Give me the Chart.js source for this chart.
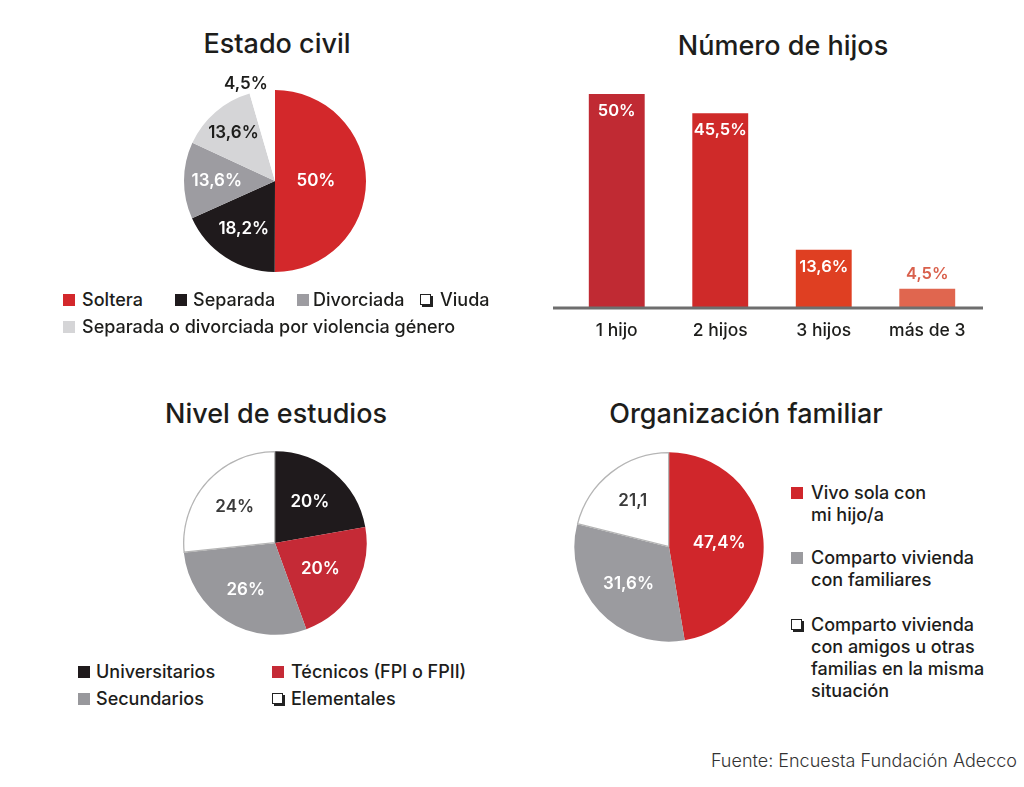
<!DOCTYPE html>
<html>
<head>
<meta charset="utf-8">
<script src="https://cdn.jsdelivr.net/npm/chart.js@4"></script>
<style>
  body { margin: 0; background: #fff; font-family: Inter, sans-serif; color: #1d1d1b; }
  #page { position: relative; width: 1024px; height: 787px; overflow: hidden; }
  .box { position: absolute; }
  .title { position: absolute; font-size: 27px; font-weight: 500; text-align: center; transform: translateX(-50%); white-space: nowrap; }
  .leg { position: absolute; font-size: 18px; font-weight: 500; line-height: 22px; white-space: nowrap; }
  .sq { position: absolute; left: 0; top: 5px; width: 12px; height: 12px; }
  .hollow { width: 9px; height: 9px; top: 5px; border: 1px solid #222; box-shadow: 2px 2px 0 #222; background: #fff; }
  .src { position: absolute; right: 7px; top: 750px; font-size: 18px; font-weight: 300; color: #333; }
</style>
</head>
<body>
<div id="page">
  <div class="title" style="left:277px; top:27px;">Estado civil</div>
  <div class="title" style="left:783px; top:29px;">Número de hijos</div>
  <div class="title" style="left:276px; top:397px;">Nivel de estudios</div>
  <div class="title" style="left:746px; top:397px;">Organización familiar</div>

  <div class="box" style="left:165px; top:71px; width:220px; height:220px;"><canvas id="civil"></canvas></div>
  <div class="box" style="left:545px; top:84px; width:454px; height:269px;"><canvas id="hijos"></canvas></div>
  <div class="box" style="left:183px; top:451px; width:184px; height:184px;"><canvas id="estudios"></canvas></div>
  <div class="box" style="left:574px; top:452px; width:190px; height:190px;"><canvas id="familia"></canvas></div>

  <div class="src">Fuente: Encuesta Fundación Adecco</div>
</div>

<script>
// Estado civil
var civilLabels = ['Soltera', 'Separada', 'Divorciada', 'Separada o divorciada por violencia género', 'Viuda'];
var civilValues = [50, 18.2, 13.6, 13.6, 4.5];

// Número de hijos
var hijosLabels = ['1 hijo', '2 hijos', '3 hijos', 'más de 3'];
var hijosValues = [50, 45.5, 13.6, 4.5];

// Nivel de estudios
var estudiosLabels = ['Universitarios', 'Técnicos (FPI o FPII)', 'Secundarios', 'Elementales'];
var estudiosValues = [20, 20, 26, 24];

// Organización familiar
var familiaLabels = [
    ['Vivo sola con', 'mi hijo/a'],
    ['Comparto vivienda', 'con familiares'],
    ['Comparto vivienda', 'con amigos u otras', 'familias en la misma', 'situación']
];
var familiaValues = [47.4, 31.6, 21.1];
var familiaText = ['47,4%', '31,6%', '21,1'];

function pct(v) {
    return String(v).replace('.', ',') + '%';
}

// draws the value text on each slice
var sliceLabels = {
    id: 'sliceLabels',
    afterDatasetsDraw: function(chart, args, opts) {
        var ctx = chart.ctx;
        var meta = chart.getDatasetMeta(0);
        meta.data.forEach(function(arc, i) {
            var mid = (arc.startAngle + arc.endAngle) / 2;
            var r = arc.outerRadius * opts.radius[i];
            var off = opts.offset ? opts.offset[i] : [0, 0];
            ctx.save();
            ctx.font = '600 17px Inter';
            ctx.fillStyle = opts.colors[i];
            ctx.textAlign = 'center';
            ctx.textBaseline = 'middle';
            ctx.fillText(opts.text[i], arc.x + Math.cos(mid) * r + off[0], arc.y + Math.sin(mid) * r + off[1]);
            ctx.restore();
        });
    }
};

// value text on bars and the grey base line
var barExtras = {
    id: 'barExtras',
    afterDatasetsDraw: function(chart) {
        var ctx = chart.ctx;
        var area = chart.chartArea;
        var y0 = chart.scales.y.getPixelForValue(0);
        ctx.save();
        ctx.strokeStyle = '#6e6e6e';
        ctx.lineWidth = 3;
        ctx.beginPath();
        ctx.moveTo(area.left - 12, y0);
        ctx.lineTo(area.right + 4, y0);
        ctx.stroke();
        var meta = chart.getDatasetMeta(0);
        ctx.font = '600 16.5px Inter';
        ctx.textAlign = 'center';
        ctx.textBaseline = 'middle';
        meta.data.forEach(function(bar, i) {
            var inside = (bar.base - bar.y) > 30;
            ctx.fillStyle = inside ? '#ffffff' : '#d9604c';
            ctx.fillText(pct(hijosValues[i]), bar.x, inside ? bar.y + 17 : bar.y - 15);
        });
        ctx.restore();
    }
};

function addLegend(items) {
    var page = document.getElementById('page');
    items.forEach(function(it) {
        var d = document.createElement('div');
        d.className = 'leg';
        d.style.left = it.x + 'px';
        d.style.top = (it.y - 11) + 'px';
        d.style.paddingLeft = it.indent + 'px';
        var sq = document.createElement('span');
        sq.className = it.hollow ? 'sq hollow' : 'sq';
        if (!it.hollow) sq.style.background = it.color;
        d.appendChild(sq);
        var t = document.createElement('span');
        t.innerHTML = [].concat(it.text).join('<br>');
        d.appendChild(t);
        page.appendChild(d);
    });
}

var civilColors = ['#d3282b', '#1f1a1c', '#9d9ca1', '#d5d5d7', '#ffffff'];
new Chart(document.getElementById('civil'), {
    type: 'pie',
    data: {
        labels: civilLabels,
        datasets: [{
            data: civilValues,
            backgroundColor: civilColors,
            borderWidth: 0
        }]
    },
    options: {
        responsive: true,
        maintainAspectRatio: false,
        animation: false,
        layout: { padding: 19 },
        plugins: {
            legend: { display: false },
            tooltip: { enabled: false },
            sliceLabels: {
                radius: [0.45, 0.63, 0.64, 0.7, 1.17],
                offset: [[0, 0], [0, 0], [0, 0], [0, 0], [-14, 8]],
                colors: ['#fff', '#fff', '#fff', '#1d1d1b', '#1d1d1b'],
                text: civilValues.map(pct)
            }
        }
    },
    plugins: [sliceLabels]
});

new Chart(document.getElementById('hijos'), {
    type: 'bar',
    data: {
        labels: hijosLabels,
        datasets: [{
            data: hijosValues,
            backgroundColor: ['#c02a33', '#cf2a29', '#df3f22', '#e0664f'],
            borderWidth: 0,
            barPercentage: 0.54,
            categoryPercentage: 1
        }]
    },
    options: {
        responsive: true,
        maintainAspectRatio: false,
        animation: false,
        layout: { padding: { left: 20, right: 20, top: 10, bottom: 0 } },
        scales: {
            x: {
                grid: { display: false, drawTicks: false },
                border: { display: false },
                ticks: { color: '#1d1d1b', padding: 12, font: { family: 'Inter', size: 17.5, weight: 500 } }
            },
            y: { display: false, min: 0, max: 50 }
        },
        plugins: {
            legend: { display: false },
            tooltip: { enabled: false }
        }
    },
    plugins: [barExtras]
});

var estudiosColors = ['#1f1a1c', '#c52a36', '#98989c', '#ffffff'];
new Chart(document.getElementById('estudios'), {
    type: 'pie',
    data: {
        labels: estudiosLabels,
        datasets: [{
            data: estudiosValues,
            backgroundColor: estudiosColors,
            borderColor: ['#1f1a1c', '#c52a36', '#98989c', '#b5b5b5'],
            borderWidth: [0, 0, 0, 1],
            borderAlign: 'inner'
        }]
    },
    options: {
        responsive: true,
        maintainAspectRatio: false,
        animation: false,
        plugins: {
            legend: { display: false },
            tooltip: { enabled: false },
            sliceLabels: {
                radius: [0.59, 0.57, 0.6, 0.59],
                colors: ['#fff', '#fff', '#fff', '#3a3a3a'],
                text: estudiosValues.map(pct)
            }
        }
    },
    plugins: [sliceLabels]
});

var familiaColors = ['#d0262b', '#9b9b9f', '#ffffff'];
new Chart(document.getElementById('familia'), {
    type: 'pie',
    data: {
        labels: familiaLabels,
        datasets: [{
            data: familiaValues,
            backgroundColor: familiaColors,
            borderColor: ['#d0262b', '#9b9b9f', '#b5b5b5'],
            borderWidth: [0, 0, 1],
            borderAlign: 'inner'
        }]
    },
    options: {
        responsive: true,
        maintainAspectRatio: false,
        animation: false,
        plugins: {
            legend: { display: false },
            tooltip: { enabled: false },
            sliceLabels: {
                radius: [0.53, 0.58, 0.62],
                colors: ['#fff', '#fff', '#3a3a3a'],
                text: familiaText
            }
        }
    },
    plugins: [sliceLabels]
});

// legends
addLegend([
    { text: civilLabels[0], color: civilColors[0], x: 63, y: 300, indent: 19 },
    { text: civilLabels[1], color: civilColors[1], x: 175, y: 300, indent: 18 },
    { text: civilLabels[2], color: civilColors[2], x: 297, y: 300, indent: 16 },
    { text: civilLabels[4], hollow: true, x: 420, y: 300, indent: 20 },
    { text: civilLabels[3], color: civilColors[3], x: 63, y: 327, indent: 19 }
]);
addLegend([
    { text: estudiosLabels[0], color: estudiosColors[0], x: 78, y: 672, indent: 18 },
    { text: estudiosLabels[1], color: estudiosColors[1], x: 272, y: 672, indent: 19 },
    { text: estudiosLabels[2], color: estudiosColors[2], x: 78, y: 699, indent: 18 },
    { text: estudiosLabels[3], hollow: true, x: 272, y: 699, indent: 19 }
]);
addLegend([
    { text: familiaLabels[0], color: familiaColors[0], x: 791, y: 493, indent: 20 },
    { text: familiaLabels[1], color: familiaColors[1], x: 791, y: 558, indent: 20 },
    { text: familiaLabels[2], hollow: true, x: 791, y: 625, indent: 20 }
]);
</script>
</body>
</html>
